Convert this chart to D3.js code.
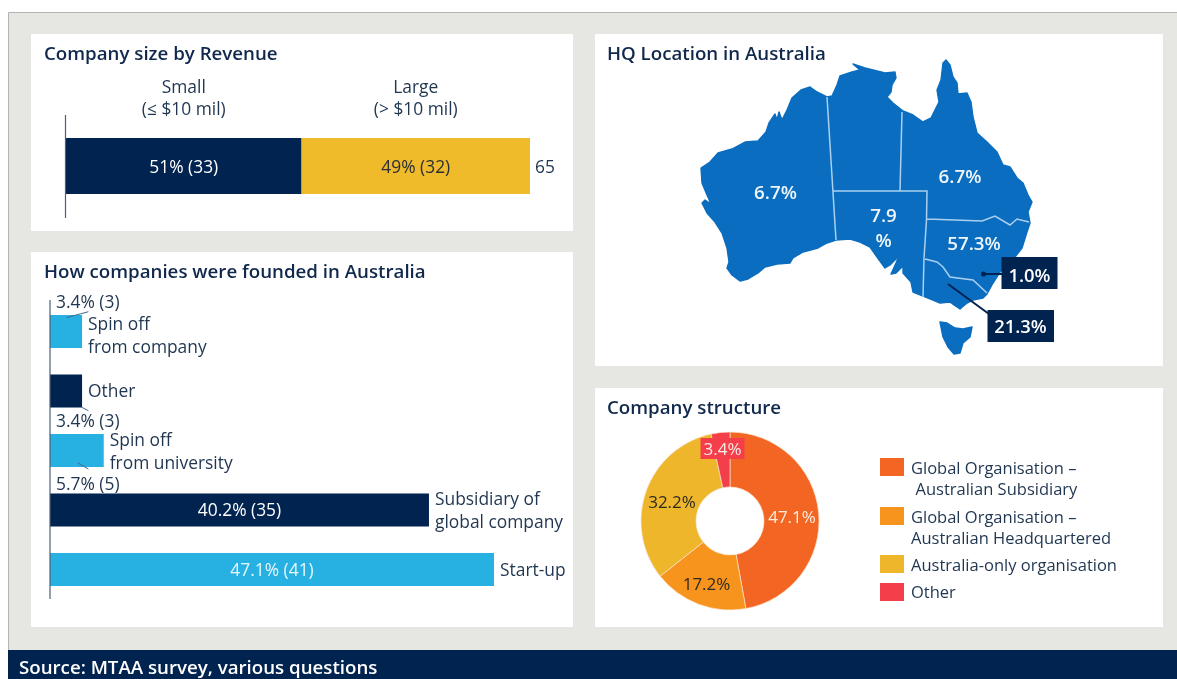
<!DOCTYPE html>
<html><head><meta charset="utf-8">
<script src="https://cdn.jsdelivr.net/npm/d3@7/dist/d3.min.js"></script>
<style>html,body{margin:0;padding:0;background:#fff;overflow:hidden}svg{display:block;filter:blur(0.35px)}text{font-family:"Open Sans","Noto Sans",sans-serif}</style>
</head><body><svg id="c" width="1177" height="679"></svg>
<script>
// ---- data ----
const sizeCategories = ["Small", "Large"];
const sizeSubLabels = ["(≤ $10 mil)", "(> $10 mil)"];
const sizeCounts = [33, 32];
const sizePercents = ["51%", "49%"];
const sizeTotal = 65;

const foundedCategories = ["Spin off|from company", "Other", "Spin off|from university", "Subsidiary of|global company", "Start-up"];
const foundedPercents = [3.4, 3.4, 5.7, 40.2, 47.1];
const foundedCounts = [3, 3, 5, 35, 41];

const structureCategories = ["Global Organisation –| Australian Subsidiary", "Global Organisation –|Australian Headquartered", "Australia-only organisation", "Other"];
const structureValues = [47.1, 17.2, 32.2, 3.4];

const hqLabels = ["6.7%", "6.7%", "7.9|%", "57.3%", "1.0%", "21.3%"];

// Map geometry in planar map units
const mainland = [[1,108],[10,102],[18,93],[32,89],[45,82],[58,81],[66,72],[69,63],[75,54],[77,60],[79,52],[82,60],[87,50],[92,38],[101,30],[110,27],[117,32],[127,37],[132,36],[137,25],[140,16],[152,12],[160,10],[153,4],[165,8],[173,10],[185,13],[195,12],[196,18],[192,25],[191,32],[187,37],[193,43],[203,51],[213,55],[223,62],[231,58],[235,50],[239,42],[237,30],[241,20],[243,3],[246,0],[250,5],[253,17],[257,23],[258,34],[267,33],[271,42],[273,57],[277,73],[287,82],[297,92],[303,105],[310,107],[317,118],[323,123],[328,135],[332,142],[328,152],[330,163],[327,172],[322,188],[315,197],[300,212],[293,223],[287,234],[283,238],[273,240],[267,243],[260,249],[254,245],[250,242],[240,243],[233,240],[223,236],[213,232],[211,222],[203,213],[203,206],[196,213],[191,214],[196,203],[200,193],[195,200],[190,205],[185,208],[177,197],[170,187],[160,182],[150,179],[136,180],[127,183],[118,188],[103,192],[93,198],[90,203],[77,204],[65,207],[58,213],[48,219],[40,221],[32,215],[27,208],[29,202],[27,188],[22,173],[15,162],[7,153],[2,143],[5,140],[11,144],[7,135],[2,123]];
const tasmania = [[240,262],[247,263],[255,268],[263,269],[272,267],[270,277],[263,283],[260,293],[254,294],[248,287],[243,277]];
const stateBorders = [
  [[127,37],[136,180]],
  [[133,131],[227,131],[226.5,160],[224,198],[223,237]],
  [[202,52],[200,131]],
  [[227,159],[282,161],[295,156],[310,165],[317,159],[329,162]],
  [[225,199],[237,202],[243,207],[250,217],[273,220],[287,233]]
];

// ---- style ----
const NAVY="#00234f", YEL="#f0bb2b", CY="#27b0e2", INK="#1f3550", TITLE="#10284c", BG="#e6e7e2", BLUE="#0a6dbf";
const svg=d3.select("#c");
function txt(x,y,s,o={}){
  return svg.append("text").attr("x",x).attr("y",y).attr("dy","0.36em").text(s)
   .attr("text-anchor",o.a||"start").attr("fill",o.c||INK).attr("font-size",o.s||17.4).attr("font-weight",o.w||400);
}
const rect=(x,y,w,h,f)=>svg.append("rect").attr("x",x).attr("y",y).attr("width",w).attr("height",h).attr("fill",f);

// background
rect(8,12,1169,667,BG);
svg.append("path").attr("d","M8.5 679V12.5H1177").attr("fill","none").attr("stroke","#b4b5b2");
rect(31,34,542,197,"#fff"); rect(31,252,542,375,"#fff"); rect(595,34,568,332,"#fff"); rect(595,388,568,239,"#fff");
rect(8,650,1169,29,NAVY);
txt(19,667.5,"Source: MTAA survey, various questions",{c:"#fff",s:18.7,w:600});

// titles
const T={c:TITLE,s:18.7,w:600};
txt(44,53,"Company size by Revenue",T);
txt(44,271,"How companies were founded in Australia",T);
txt(607,53,"HQ Location in Australia",T);
txt(607,407,"Company structure",T);

// Panel 1: stacked bar
const x1=d3.scaleLinear().domain([0,sizeTotal]).range([66,530]);
const stack=d3.cumsum(sizeCounts);
sizeCounts.forEach((v,i)=>{
  const a=i?stack[i-1]:0,b=stack[i];
  rect(x1(a),138,x1(b)-x1(a),56,i?YEL:NAVY);
  const cx=(x1(a)+x1(b))/2;
  txt(cx,167,`${sizePercents[i]} (${v})`,{a:"middle",c:i?"#2b2f35":"#fff"});
  txt(cx,87,sizeCategories[i],{a:"middle"});
  txt(cx,109,sizeSubLabels[i],{a:"middle"});
});
svg.append("line").attr("x1",65.5).attr("x2",65.5).attr("y1",115).attr("y2",218).attr("stroke","#4a5f78").attr("stroke-width",1.2);
txt(535,167,String(sizeTotal));

// Panel 2: horizontal bars
const x2=d3.scaleLinear().domain([0,47.1]).range([50,494]);
const y2=d3.scaleBand().domain(foundedCategories).range([315,586]).paddingInner(0.445).paddingOuter(0);
foundedCategories.forEach((c,i)=>{
  const y=y2(c), h=y2.bandwidth(), v=foundedPercents[i];
  rect(x2(0),y,x2(v)-x2(0),h,(i===1||i===3)?NAVY:CY);
  const lines=c.split("|"), lx=x2(v)+6;
  if(lines.length===1) txt(lx,y+h/2,lines[0]);
  else { const top=i===0?324:(i===2?440:499); txt(lx,top,lines[0]); txt(lx,top+22.5,lines[1]); }
  const lab=`${v}% (${foundedCounts[i]})`;
  if(i<3) txt(56,[301.5,421,484][i],lab);
  else txt((x2(0)+x2(v))/2,y+h/2,lab,{a:"middle",c:i===4?"#e9f7fd":"#fff"});
});
svg.append("line").attr("x1",50).attr("x2",50).attr("y1",300).attr("y2",599).attr("stroke","#4a5f78").attr("stroke-width",1.2);
[[66.5,317.7,88.4,311.7],[81.8,407.3,88.4,410.7],[78,463,88.4,469]].forEach(l=>
  svg.append("line").attr("x1",l[0]).attr("y1",l[1]).attr("x2",l[2]).attr("y2",l[3]).attr("stroke","#3c6a8c").attr("stroke-width",1));

// Panel 3: map
const proj=d3.geoIdentity().translate([700,60]);
const geo=d3.geoPath(proj);
svg.append("path").attr("fill",BLUE).attr("stroke",BLUE).attr("stroke-width",1.4).attr("stroke-linejoin","round")
  .attr("d",geo({type:"MultiPolygon",coordinates:[[[...mainland,mainland[0]]],[[...tasmania,tasmania[0]]]]}));
svg.append("path").attr("fill","none").attr("stroke","#a9d0f0").attr("stroke-width",1.5)
  .attr("d",geo({type:"MultiLineString",coordinates:stateBorders}));
const W={c:"#eef5fb",s:18.8,w:600,a:"middle"};
txt(775.5,192.5,hqLabels[0],W);
txt(960,176,hqLabels[1],W);
txt(883.5,215.5,hqLabels[2].split("|")[0],W);
txt(883.5,240,hqLabels[2].split("|")[1],W);
txt(974,243,hqLabels[3],W);
// callouts
svg.append("line").attr("x1",983.5).attr("y1",274).attr("x2",1002).attr("y2",274).attr("stroke",NAVY).attr("stroke-width",2);
svg.append("circle").attr("cx",983.5).attr("cy",274).attr("r",2.5).attr("fill",NAVY);
svg.append("line").attr("x1",948).attr("y1",284).attr("x2",989).attr("y2",314).attr("stroke",NAVY).attr("stroke-width",2);
rect(1001.5,257,56,32,NAVY); rect(987.5,310,66.5,32,NAVY);
txt(1029.5,275,hqLabels[4],{c:"#fff",s:18.4,w:600,a:"middle"});
txt(1020.5,326.5,hqLabels[5],{c:"#fff",s:18.4,w:600,a:"middle"});

// Panel 4: donut
const colors=["#f26522","#f7941d","#eeb62a","#f43f4a"];
const pie=d3.pie().sort(null)(structureValues);
const arc=d3.arc().innerRadius(34).outerRadius(89);
const gd=svg.append("g").attr("transform","translate(730,521)");
gd.selectAll("path").data(pie).join("path").attr("d",arc).attr("fill",(d,i)=>colors[i]).attr("stroke","#fbe3cf").attr("stroke-width",0.7);
rect(700.5,438,44,21,colors[3]);
txt(722.5,449,structureValues[3]+"%",{a:"middle",c:"#fbeae6",s:17});
txt(792,516.5,structureValues[0]+"%",{a:"middle",c:"#fdeee2",s:17});
txt(672,501.5,structureValues[2]+"%",{a:"middle",c:"#2e2a20",s:17});
txt(706.5,584,structureValues[1]+"%",{a:"middle",c:"#2e2a20",s:17});
// legend
const swY=[458,507,555,583], lineY=[[468,489],[517,538],[565],[592]];
structureCategories.forEach((c,i)=>{
  rect(880,swY[i],24,18,colors[i]);
  c.split("|").forEach((t,j)=>{ const lead=t.startsWith(" "); txt(lead?915.5:911,lineY[i][j],t.trim(),{s:16.5}); });
});
</script></body></html>
